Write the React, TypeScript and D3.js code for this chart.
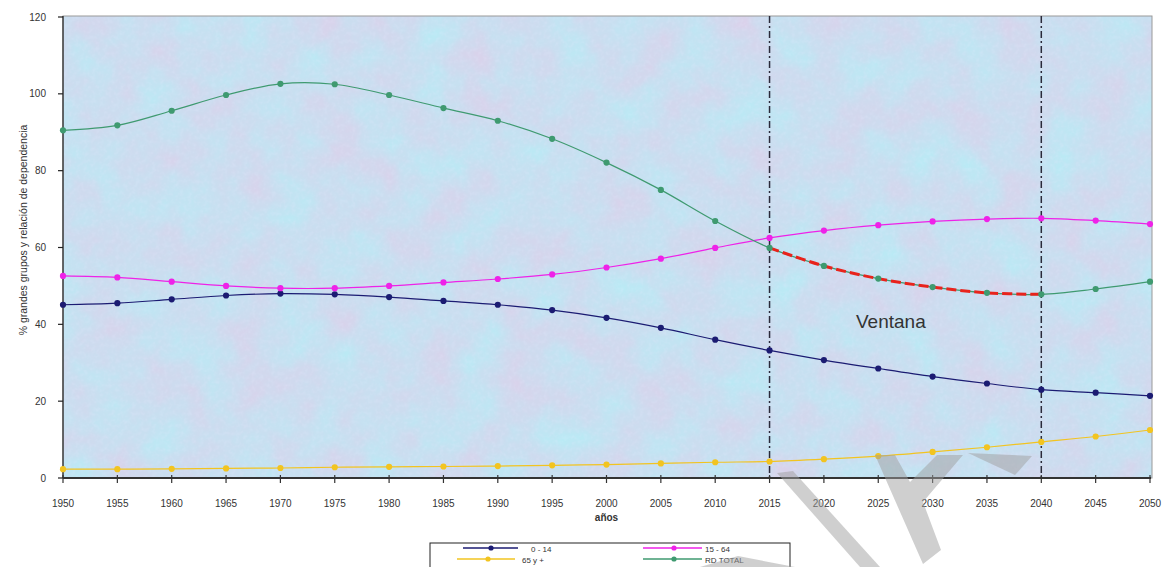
import React from "react";
import * as d3 from "d3";

const years = [1950,1955,1960,1965,1970,1975,1980,1985,1990,1995,2000,2005,2010,2015,2020,2025,2030,2035,2040,2045,2050];
const age0to14 = [45.1,45.5,46.5,47.5,48.0,47.8,47.1,46.1,45.1,43.7,41.7,39.1,36.0,33.2,30.7,28.5,26.4,24.6,23.0,22.2,21.4];
const age15to64 = [52.6,52.2,51.1,50.0,49.4,49.4,50.0,50.9,51.8,53.0,54.8,57.1,59.9,62.5,64.4,65.8,66.8,67.4,67.6,67.0,66.1];
const age65plus = [2.3,2.3,2.4,2.5,2.6,2.8,2.9,3.0,3.1,3.3,3.5,3.8,4.1,4.3,4.9,5.7,6.8,8.0,9.4,10.8,12.5];
const rdTotal = [90.5,91.8,95.6,99.7,102.6,102.5,99.7,96.3,93.0,88.3,82.1,75.0,66.9,59.9,55.2,51.9,49.7,48.2,47.8,49.2,51.1];
const yTicks = [0,20,40,60,80,100,120];
const windowYears = [2015, 2040];
const seriesNames = ["0 - 14", "15 - 64", "65 y +", "RD TOTAL"];

const COLORS = {
  a: "#1b1b72",
  b: "#ee22e8",
  c: "#f2c420",
  d: "#3f9a70",
};

export default function App() {
  const W = 1166, H = 567;
  const left = 63, right = 1150, top = 17, bottom = 478;
  const x = d3.scaleLinear().domain([1950, 2050]).range([left, right]);
  const y = d3.scaleLinear().domain([0, 120]).range([bottom, top]);
  const mk = (vals: number[]) =>
    d3.line<number>().x((_, i) => x(years[i])).y((v) => y(v)).curve(d3.curveCatmullRom.alpha(0.5))(vals) || "";

  const series = [
    { name: seriesNames[0], vals: age0to14, color: COLORS.a },
    { name: seriesNames[1], vals: age15to64, color: COLORS.b },
    { name: seriesNames[2], vals: age65plus, color: COLORS.c },
    { name: seriesNames[3], vals: rdTotal, color: COLORS.d },
  ];

  const i0 = years.indexOf(windowYears[0]);
  const i1 = years.indexOf(windowYears[1]);
  const winYears = years.slice(i0, i1 + 1);
  const winVals = rdTotal.slice(i0, i1 + 1);
  const redPath =
    d3.line<number>().x((_, i) => x(winYears[i])).y((v) => y(v)).curve(d3.curveCatmullRom.alpha(0.5))(winVals) || "";

  const font = "'Liberation Sans', Arial, sans-serif";

  const legendItems = [
    { s: series[0], lx: 463, lx2: 518, mx: 491, tx: 531, ty: 549 },
    { s: series[1], lx: 643, lx2: 702, mx: 674, tx: 705, ty: 549 },
    { s: series[2], lx: 457, lx2: 515, mx: 488, tx: 522, ty: 560 },
    { s: series[3], lx: 643, lx2: 702, mx: 674, tx: 705, ty: 560 },
  ];

  return (
    <svg width={W} height={H} style={{ position: "absolute", left: 0, top: 0, display: "block", background: "#fff" }} fontFamily={font}>
      <defs>
        <filter id="tex" x="0" y="0" width="100%" height="100%" colorInterpolationFilters="sRGB">
          <feTurbulence type="fractalNoise" baseFrequency="0.022" numOctaves="4" seed="7" result="n" />
          <feColorMatrix in="n" type="matrix"
            values="0.16 0 0 0 0.71  -0.12 0 0 0 0.93  -0.05 0 0 0 0.965  0 0 0 0 1" result="c" />
          <feTurbulence type="fractalNoise" baseFrequency="0.25" numOctaves="2" seed="2" result="f" />
          <feColorMatrix in="f" type="matrix"
            values="0 0 0 0 0.9  0 0 0 0 0.92  0 0 0 0 1  0.5 0 0 0 -0.22" result="fa" />
          <feComposite in="fa" in2="c" operator="over" />
        </filter>
      </defs>

      {/* plot background */}
      <rect x={left} y={top - 1} width={right - left + 2} height={bottom - top + 1} filter="url(#tex)" />
      <rect x={left} y={top - 1} width={right - left + 2} height={bottom - top + 1} fill="none" stroke="#9a9a9a" strokeWidth={1} />

      {/* y axis */}
      <line x1={left} x2={left} y1={top - 1} y2={bottom} stroke="#222" strokeWidth={1.2} />
      {yTicks.map((t) => (
        <g key={t}>
          <line x1={left - 5} x2={left} y1={y(t)} y2={y(t)} stroke="#222" strokeWidth={1.2} />
          <text x={left - 17} y={y(t) + 3.5} fontSize={10} textAnchor="end" fill="#333">{t}</text>
        </g>
      ))}
      <text transform={`translate(27,230) rotate(-90)`} fontSize={10.5} textAnchor="middle" fill="#333">
        % grandes grupos y relación de dependencia
      </text>

      {/* window lines */}
      {windowYears.map((yr) => (
        <line key={yr} x1={x(yr)} x2={x(yr)} y1={top - 1} y2={bottom} stroke="#2a2a3a" strokeWidth={1.5} strokeDasharray="7,3,2,3" />
      ))}

      {/* series lines */}
      {series.map((s) => (
        <path key={s.name} d={mk(s.vals)} fill="none" stroke={s.color} strokeWidth={1.2} />
      ))}
      <path d={redPath} fill="none" stroke="#e8231c" strokeWidth={3} strokeDasharray="10,4" />
      {series.map((s) => (
        <g key={s.name + "m"}>
          {s.vals.map((v, i) => (
            <circle key={i} cx={x(years[i])} cy={y(v)} r={3.1} fill={s.color} />
          ))}
        </g>
      ))}

      {/* x axis */}
      <line x1={left} x2={right + 1} y1={bottom} y2={bottom} stroke="#333" strokeWidth={2} />
      {years.map((yr) => (
        <g key={yr}>
          <line x1={x(yr)} x2={x(yr)} y1={bottom - 3} y2={bottom + 5} stroke="#333" strokeWidth={1.2} />
          <text x={x(yr)} y={507} fontSize={10} textAnchor="middle" fill="#333">{yr}</text>
        </g>
      ))}
      <text x={(left + right) / 2} y={521} fontSize={10} fontWeight="bold" textAnchor="middle" fill="#333">años</text>

      <text x={856} y={328} fontSize={19} fill="#333">Ventana</text>

      {/* legend */}
      <rect x={430} y={543} width={360} height={30} fill="#fff" stroke="#222" strokeWidth={1} />
      {legendItems.map((it) => (
        <g key={it.s.name + "l"}>
          <line x1={it.lx} x2={it.lx2} y1={it.ty - 1} y2={it.ty - 1} stroke={it.s.color} strokeWidth={1.3} />
          <circle cx={it.mx} cy={it.ty - 1} r={2.6} fill={it.s.color} />
          <text x={it.tx} y={it.ty + 2.5} fontSize={8} fill="#333">{it.s.name}</text>
        </g>
      ))}

      {/* watermark shapes */}
      <g fill="#a0a0a0" opacity={0.5}>
        <polygon points="777,473 793,471 880,567 860,567" />
        <polygon points="875,455 895,455 910,482 937,455 963,455 923,502 941,550 923,564" />
        <polygon points="968,453 1032,456 1015,475" />
        <polygon points="700,567 738,556 795,567" />
      </g>
    </svg>
  );
}
